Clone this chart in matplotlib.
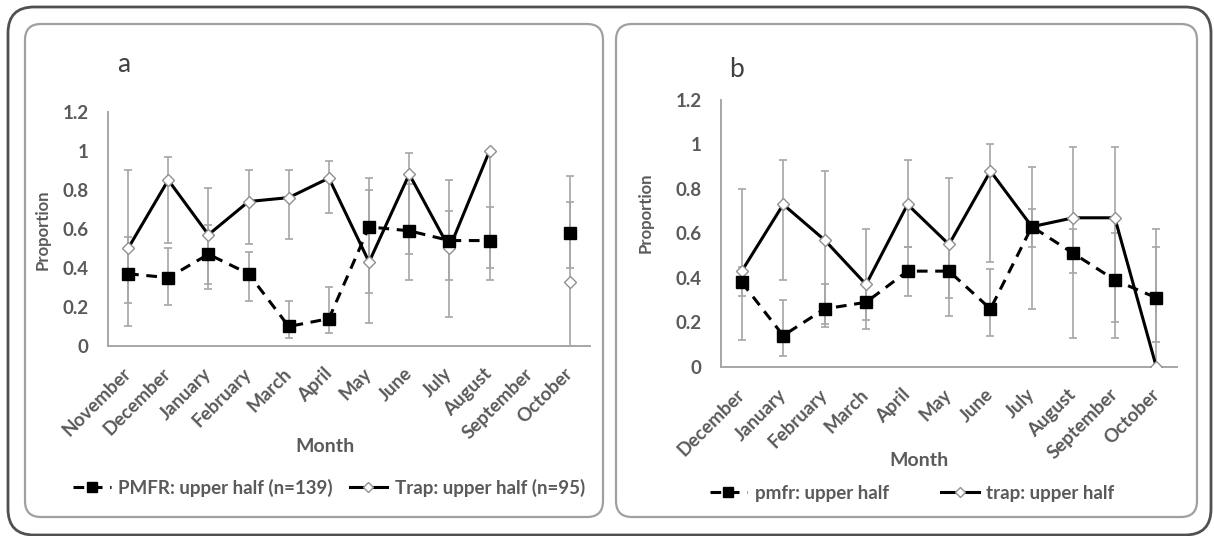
import numpy as np
import matplotlib
matplotlib.use('Agg')
import matplotlib.pyplot as plt
from matplotlib.patches import FancyBboxPatch
from matplotlib.transforms import IdentityTransform

plt.rcParams['font.family'] = ['Lato', 'DejaVu Sans']

nan = np.nan

# panel a: Nov..Oct
months_a = ['November', 'December', 'January', 'February', 'March', 'April',
            'May', 'June', 'July', 'August', 'September', 'October']
pmfr_a = [0.37, 0.35, 0.47, 0.37, 0.10, 0.14, 0.61, 0.59, 0.54, 0.54, nan, 0.58]
pmfr_a_lo = [0.22, 0.21, 0.29, 0.23, 0.04, 0.065, 0.27, 0.47, 0.34, 0.40, nan, 0.40]
pmfr_a_hi = [0.56, 0.50, 0.62, 0.48, 0.23, 0.30, 0.80, 0.83, 0.69, 0.71, nan, 0.74]
trap_a = [0.50, 0.85, 0.57, 0.74, 0.76, 0.86, 0.43, 0.88, 0.50, 1.00, nan, 0.33]
trap_a_lo = [0.10, 0.53, 0.32, 0.52, 0.55, 0.68, 0.12, 0.34, 0.15, 0.34, nan, 0.00]
trap_a_hi = [0.90, 0.97, 0.81, 0.90, 0.90, 0.95, 0.86, 0.99, 0.85, 1.00, nan, 0.87]

# panel b: Dec..Oct
months_b = ['December', 'January', 'February', 'March', 'April', 'May',
            'June', 'July', 'August', 'September', 'October']
pmfr_b = [0.38, 0.14, 0.26, 0.29, 0.43, 0.43, 0.26, 0.63, 0.51, 0.39, 0.31]
pmfr_b_lo = [0.32, 0.05, 0.18, 0.17, 0.32, 0.23, 0.14, 0.54, 0.42, 0.20, 0.11]
pmfr_b_hi = [0.45, 0.30, 0.37, 0.37, 0.54, 0.55, 0.44, 0.71, 0.62, 0.60, 0.54]
trap_b = [0.43, 0.73, 0.57, 0.37, 0.73, 0.55, 0.88, 0.63, 0.67, 0.67, 0.00]
trap_b_lo = [0.12, 0.39, 0.19, 0.21, 0.54, 0.31, 0.47, 0.26, 0.13, 0.13, 0.00]
trap_b_hi = [0.80, 0.93, 0.88, 0.62, 0.93, 0.85, 1.00, 0.90, 0.99, 0.99, 0.62]

W, H = 1214, 536
TXT = '#5a5a5a'
WT = 'bold'
fig = plt.figure(figsize=(W / 100, H / 100), dpi=100)


def fx(x):
    return x / W


def fy(y):
    return 1 - y / H


def border(x0, y0, x1, y1, r, color, lw):
    # pixel coords, top-origin
    p = FancyBboxPatch((x0, H - y1), x1 - x0, y1 - y0,
                       boxstyle='round,pad=0,rounding_size=%d' % r,
                       transform=IdentityTransform(), fill=False,
                       edgecolor=color, linewidth=lw)
    fig.patches.append(p)


border(8, 7, 1211, 535, 26, '#505050', 2)
border(25, 24, 603, 517, 16, '#a0a0a0', 1.6)
border(616, 24, 1197, 517, 16, '#a0a0a0', 1.6)


def panel(ax, months, pm, pm_lo, pm_hi, tr, tr_lo, tr_hi):
    x = np.arange(len(months))
    pm = np.array(pm); tr = np.array(tr)
    ax.errorbar(x, tr, yerr=[tr - np.array(tr_lo), np.array(tr_hi) - tr], fmt='none',
                ecolor='#a6a6a6', elinewidth=1.2, capsize=3, capthick=1.2, zorder=1)
    ax.errorbar(x, pm, yerr=[pm - np.array(pm_lo), np.array(pm_hi) - pm], fmt='none',
                ecolor='#a6a6a6', elinewidth=1.2, capsize=3, capthick=1.2, zorder=1)
    h_tr, = ax.plot(x, tr, color='black', lw=2.2, marker='D', ms=6.5, mfc='white',
                    mec='#909090', mew=1, zorder=3)
    h_pm, = ax.plot(x, pm, color='black', lw=2.2, ls=(0, (3.5, 2.5)), marker='s', ms=9,
                    mfc='black', mec='black', zorder=4)
    ax.set_xlim(-0.5, len(months) - 0.5)
    ax.set_ylim(0, 1.2)
    ax.set_yticks([0, 0.2, 0.4, 0.6, 0.8, 1.0, 1.2], ['0', '0.2', '0.4', '0.6', '0.8', '1', '1.2'])
    ax.set_xticks(x, months, rotation=45, ha='right', va='center', rotation_mode='anchor')
    ax.tick_params(axis='y', length=0, pad=14, labelsize=13.5, labelcolor=TXT)
    ax.tick_params(axis='x', length=0, pad=18, labelsize=13.5, labelcolor=TXT)
    for lab in ax.get_yticklabels() + ax.get_xticklabels():
        lab.set_fontweight(WT)
    for s in ['top', 'right']:
        ax.spines[s].set_visible(False)
    for s in ['left', 'bottom']:
        ax.spines[s].set_color('#a6a6a6')
        ax.spines[s].set_linewidth(1.4)
    ax.patch.set_alpha(0)
    return h_pm, h_tr


ax_a = fig.add_axes([fx(108), fy(346), fx(590) - fx(108), fy(111.7) - fy(346)])
ax_b = fig.add_axes([fx(721), fy(366.7), fx(1177) - fx(721), fy(100) - fy(366.7)])

ha_pm, ha_tr = panel(ax_a, months_a, pmfr_a, pmfr_a_lo, pmfr_a_hi, trap_a, trap_a_lo, trap_a_hi)
hb_pm, hb_tr = panel(ax_b, months_b, pmfr_b, pmfr_b_lo, pmfr_b_hi, trap_b, trap_b_lo, trap_b_hi)

fig.text(fx(124), fy(65), 'a', fontsize=19, color='#404040', ha='center', va='center')
fig.text(fx(737), fy(69), 'b', fontsize=19, color='#404040', ha='center', va='center')

for xx, yy in [(43, 230), (646, 213)]:
    fig.text(fx(xx), fy(yy), 'Proportion', rotation=90, fontsize=12, color=TXT,
             fontweight=WT, ha='center', va='center')
for xx, yy in [(325, 447), (919, 460)]:
    fig.text(fx(xx), fy(yy), 'Month', fontsize=14, color=TXT, fontweight=WT,
             ha='center', va='center')

leg_a = fig.legend([ha_pm, ha_tr], ['PMFR: upper half (n=139)', 'Trap: upper half (n=95)'],
                   loc='center', bbox_to_anchor=(fx(329), fy(488)), ncol=2, frameon=False,
                   handlelength=2.0, handletextpad=0.4, columnspacing=0.9,
                   prop={'size': 13.5, 'weight': WT}, labelcolor=TXT, markerscale=0.8)
leg_b = fig.legend([hb_pm, hb_tr], ['pmfr: upper half', 'trap: upper half'],
                   loc='center', bbox_to_anchor=(fx(912), fy(493)), ncol=2, frameon=False,
                   handlelength=2.0, handletextpad=0.4, columnspacing=2.8,
                   prop={'size': 13.5, 'weight': WT}, labelcolor=TXT, markerscale=0.8)

fig.savefig('out.png', dpi=100)
